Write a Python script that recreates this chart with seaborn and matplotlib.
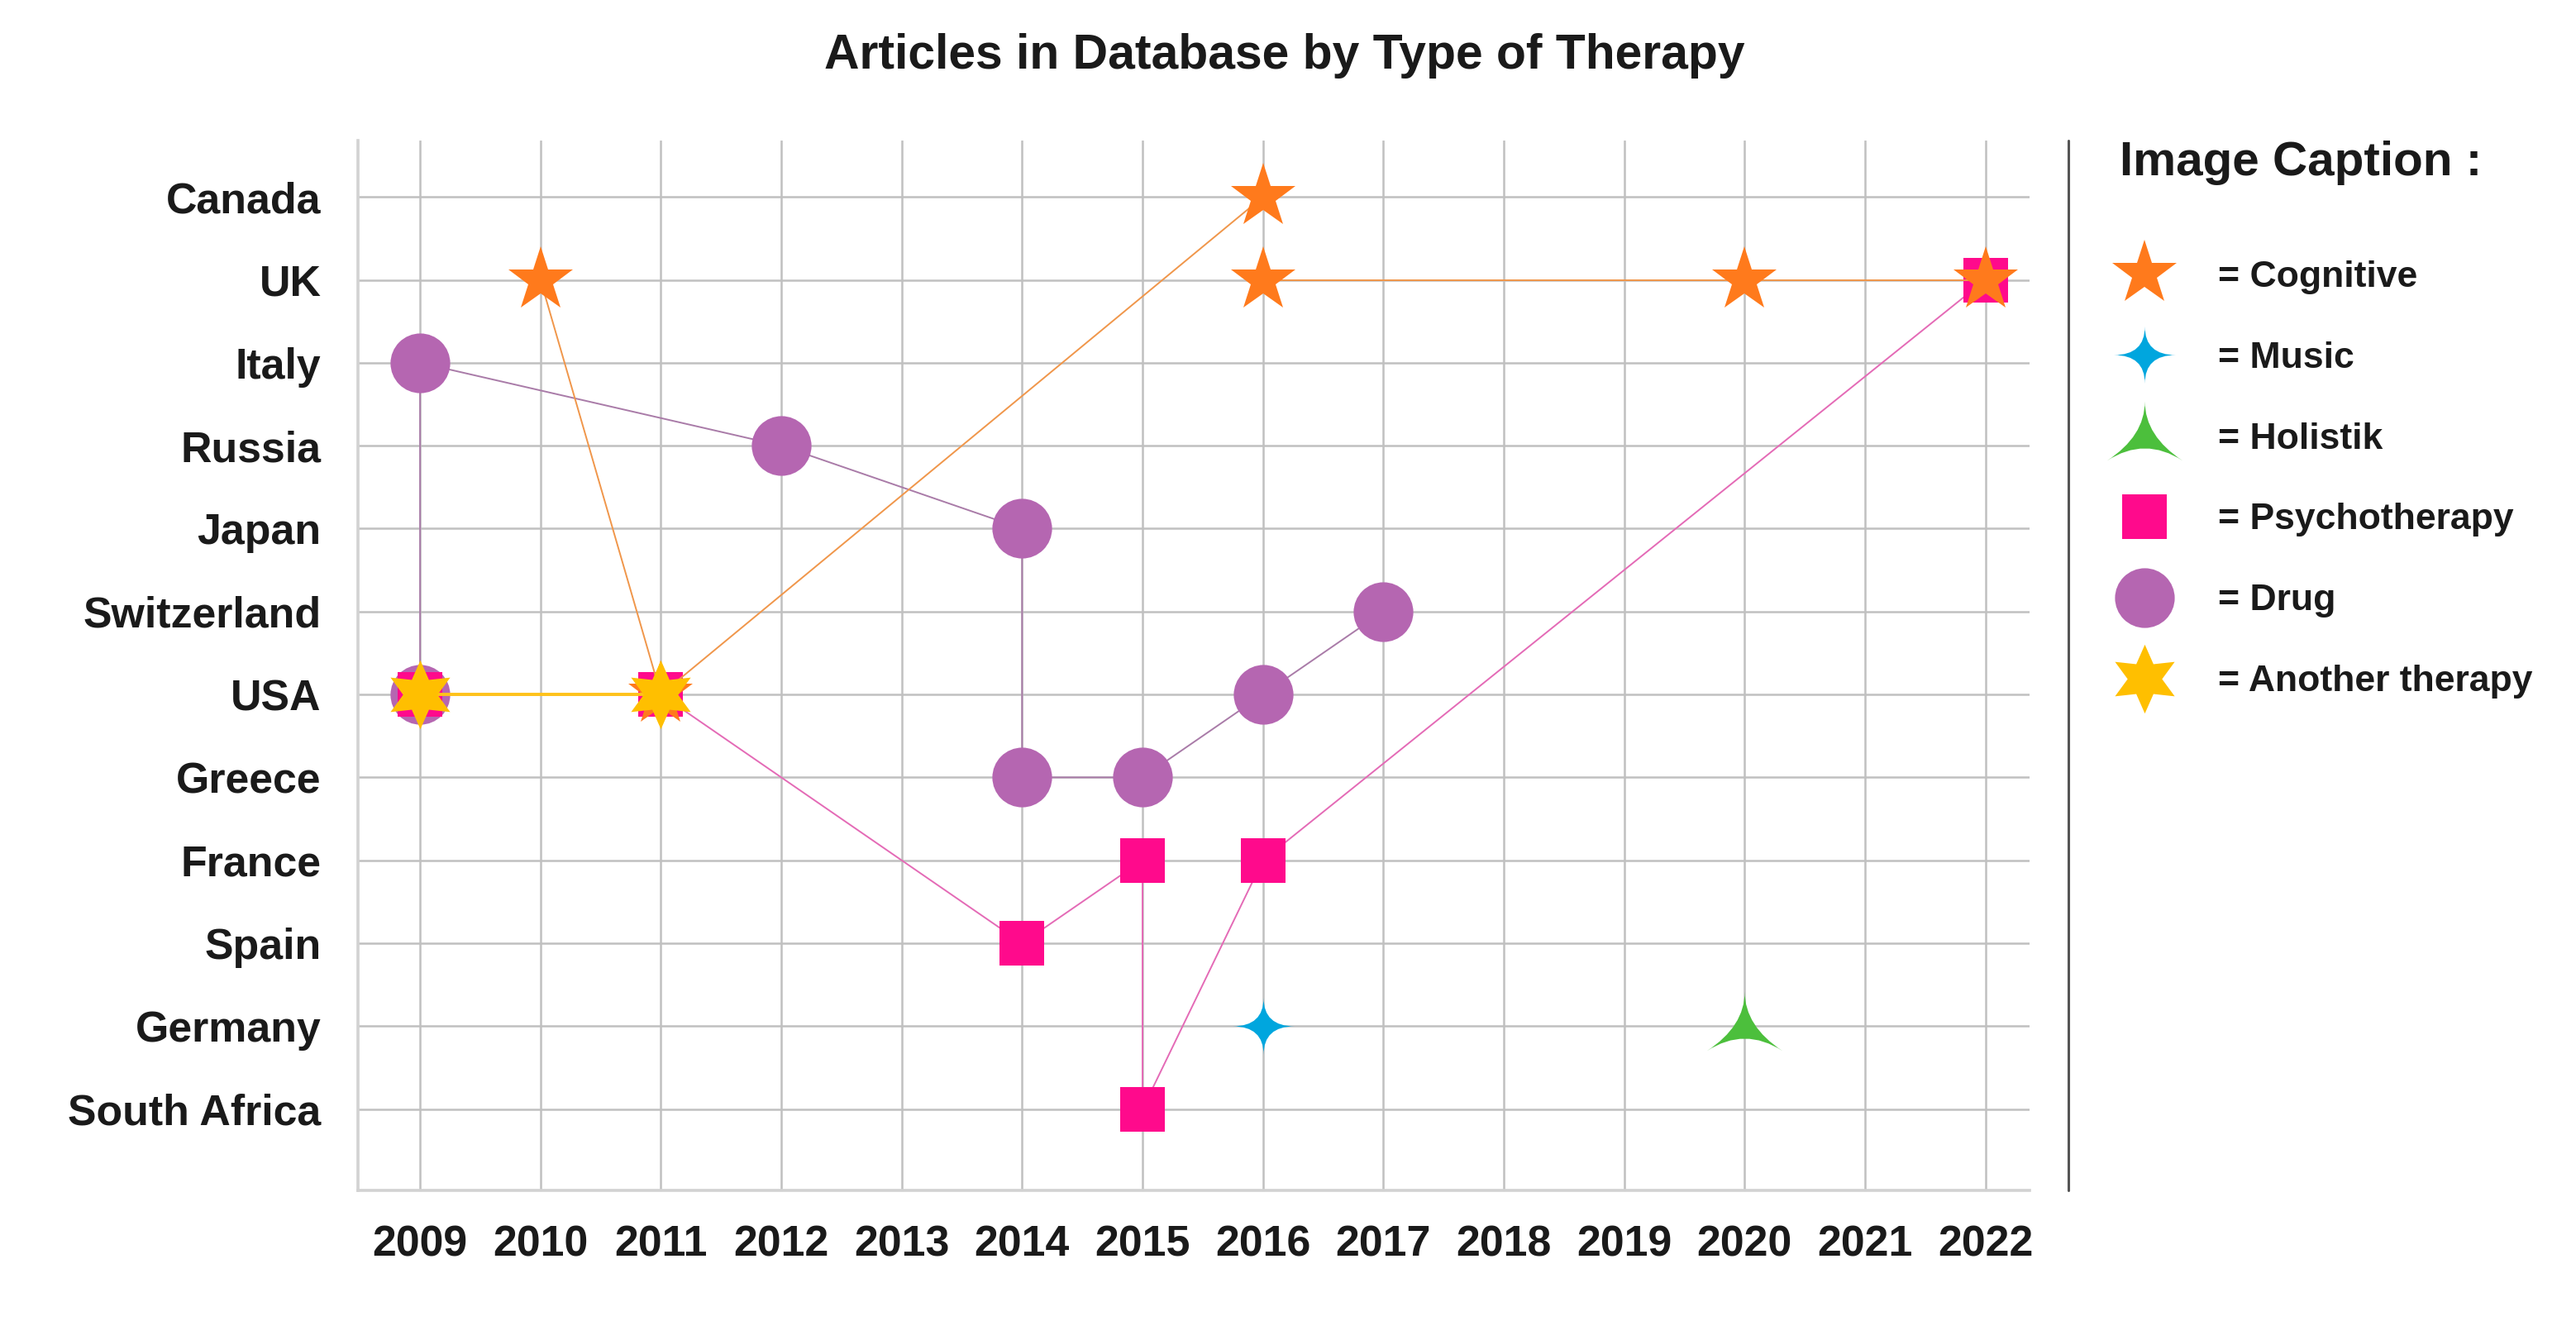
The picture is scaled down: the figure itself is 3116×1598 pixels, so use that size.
#Libraries
import pandas as pd
import seaborn as sns
import matplotlib.pyplot as plt
from matplotlib.path import Path
from matplotlib.lines import Line2D
from matplotlib import font_manager

#Categories
countries = ['Canada', 'UK', 'Italy', 'Russia', 'Japan', 'Switzerland', 'USA',
             'Greece', 'France', 'Spain', 'Germany', 'South Africa']
years = list(range(2009, 2023))

#Articles per therapy (in the order they are joined, group = separate line)
cognitive_year = [2010, 2011, 2016, 2016, 2020, 2022]
cognitive_country = ['UK', 'USA', 'Canada', 'UK', 'UK', 'UK']
cognitive_group = [0, 0, 0, 1, 1, 1]

music_year = [2016]
music_country = ['Germany']
music_group = [0]

holistik_year = [2020]
holistik_country = ['Germany']
holistik_group = [0]

psycho_year = [2009, 2011, 2014, 2015, 2015, 2016, 2022]
psycho_country = ['USA', 'USA', 'Spain', 'France', 'South Africa', 'France', 'UK']
psycho_group = [0, 0, 0, 0, 0, 0, 0]

drug_year = [2009, 2009, 2012, 2014, 2014, 2015, 2016, 2017]
drug_country = ['USA', 'Italy', 'Russia', 'Japan', 'Greece', 'Greece', 'USA', 'Switzerland']
drug_group = [0, 0, 0, 0, 0, 0, 0, 0]

another_year = [2009, 2011]
another_country = ['USA', 'USA']
another_group = [0, 0]

legend_labels = ['= Cognitive', '= Music', '= Holistik', '= Psychotherapy', '= Drug', '= Another therapy']

#Fonts
sns.set_style('white')
available = {f.name for f in font_manager.fontManager.ttflist}
wide = 'Liberation Sans' if 'Liberation Sans' in available else 'DejaVu Sans'
narrow = 'Liberation Sans Narrow' if 'Liberation Sans Narrow' in available else wide
plt.rcParams['font.family'] = [wide, 'DejaVu Sans']
tick_size = 23 if narrow != wide else 18.7
ink = '#1a1a1a'

#Star shapes with concave sides
def curved_star(tips):
    verts = [tips[0]]
    codes = [Path.MOVETO]
    for t in tips[1:] + [tips[0]]:
        verts += [(0, 0), t]
        codes += [Path.CURVE3, Path.CURVE3]
    verts.append(tips[0])
    codes.append(Path.CLOSEPOLY)
    return Path(verts, codes)

music_marker = curved_star([(0, 0.92), (-1, 0), (0, -0.92), (1, 0)])
holistik_marker = curved_star([(0, 42), (-46, -30), (46, -30)])

#name: (years, countries, groups, fill, line colour, marker, size, zorder)
series = {
    'Drug': (drug_year, drug_country, drug_group, '#b566b1', '#a97ba8', 'o', 26, 3),
    'Psychotherapy': (psycho_year, psycho_country, psycho_group, '#ff0a8c', '#e46ab6', 's', 19.5, 4),
    'Cognitive': (cognitive_year, cognitive_country, cognitive_group, '#ff7a1c', '#f0964a', '*', 29.5, 5),
    'Another': (another_year, another_country, another_group, '#ffbf00', '#ffc21a', (6, 1, 0), 30, 6),
    'Music': (music_year, music_country, music_group, '#00a6de', '#00a6de', music_marker, 27, 7),
    'Holistik': (holistik_year, holistik_country, holistik_group, '#4cbf3c', '#4cbf3c', holistik_marker, 33, 7),
}

fig = plt.figure(figsize=(15.58, 7.99))
ax = fig.add_axes([0.139, 0.0989, 0.649, 0.7947])

for name, (yrs, ctry, grp, fill, lcol, mk, ms, z) in series.items():
    df = pd.DataFrame({'year': yrs, 'row': [countries.index(c) for c in ctry], 'grp': grp})
    sns.lineplot(data=df, x='year', y='row', units='grp', sort=False, estimator=None, ax=ax,
                 color=lcol, linewidth=1.4 if name == 'Another' else 0.7,
                 marker=mk, markersize=ms, markerfacecolor=fill,
                 markeredgecolor=fill, markeredgewidth=0, zorder=z, legend=False)

#Axes
ax.set_xlim(2008.485, 2022.37)
ax.set_ylim(11.98, -0.68)
ax.set_xticks(years)
ax.set_yticks(range(len(countries)))
ax.set_yticklabels(countries)
ax.set_xlabel('')
ax.set_ylabel('')
ax.grid(True, color='#c0c0c0', linewidth=0.9)
ax.set_axisbelow(True)
for s in ['top', 'right']:
    ax.spines[s].set_visible(False)
for s in ['left', 'bottom']:
    ax.spines[s].set_color('#d2d2d2')
    ax.spines[s].set_linewidth(1.3)
ax.tick_params(axis='both', length=0, colors=ink)
ax.tick_params(axis='y', pad=16)
ax.tick_params(axis='x', pad=15)
for lab in ax.get_xticklabels() + ax.get_yticklabels():
    lab.set_family([narrow, 'DejaVu Sans'])
    lab.set_fontweight('bold')
    lab.set_fontsize(tick_size)

#Title and separator
fig.text(0.4987, 0.958, 'Articles in Database by Type of Therapy', ha='center', va='center',
         fontsize=21.2, fontweight='bold', color=ink)
fig.add_artist(Line2D([0.803, 0.803], [0.0989, 0.8936], transform=fig.transFigure,
                      color='#555555', linewidth=1.1))

#Legend
fig.text(0.823, 0.877, 'Image Caption :', ha='left', va='center',
         fontsize=21, fontweight='bold', color=ink)
order = ['Cognitive', 'Music', 'Holistik', 'Psychotherapy', 'Drug', 'Another']
handles = [Line2D([], [], linestyle='none', marker=series[k][5], markersize=series[k][6],
                  markerfacecolor=series[k][3], markeredgecolor=series[k][3], markeredgewidth=0)
           for k in order]
leg = fig.legend(handles=handles, labels=legend_labels, loc='upper left',
                 bbox_to_anchor=(0.8218, 0.803), frameon=False,
                 prop={'family': wide, 'weight': 'bold', 'size': 16},
                 handlelength=1.5, handletextpad=1.26, labelspacing=1.28,
                 borderpad=0, borderaxespad=0)
for t in leg.get_texts():
    t.set_color(ink)

fig.savefig('out.png', dpi=200)
